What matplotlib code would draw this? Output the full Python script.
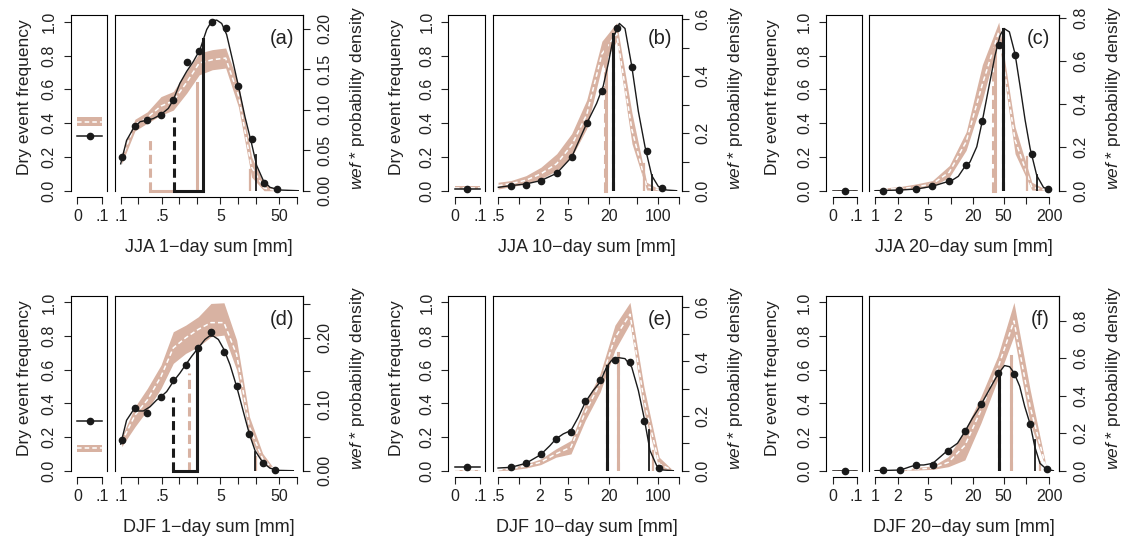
import numpy as np
import matplotlib.pyplot as plt

plt.rcParams['font.family'] = ['Liberation Sans', 'DejaVu Sans']
plt.rcParams['mathtext.fontset'] = 'custom'
plt.rcParams['mathtext.rm'] = 'Liberation Sans'
plt.rcParams['mathtext.it'] = 'Liberation Sans:italic'
plt.rcParams['text.color'] = '#222222'
plt.rcParams['xtick.color'] = '#222222'
plt.rcParams['ytick.color'] = '#222222'

TAN = '#d8b2a2'
INK = '#1a1a1a'

# values; y in "dry event frequency" units (left axis)
# (a) JJA 1-day
a_pts_x = [0.104, 0.175, 0.284, 0.486, 0.787, 1.33, 2.18, 3.64, 6.14, 10.1, 17.0, 27.6, 45.4]
a_pts_y = [0.199, 0.382, 0.417, 0.451, 0.537, 0.761, 0.825, 0.998, 0.962, 0.620, 0.308, 0.048, 0.010]
a_kde_x = [0.10, 0.126, 0.164, 0.213, 0.277, 0.360, 0.486, 0.647, 0.787, 1.02, 1.33, 1.73, 2.24,
           2.92, 3.55, 4.32, 5.25, 6.38, 8.28, 10.1, 13.1, 17.0, 20.7, 26.9, 34.9, 51.7, 106]
a_kde_y = [0.159, 0.298, 0.368, 0.408, 0.417, 0.427, 0.451, 0.487, 0.537, 0.636, 0.706, 0.765, 0.835,
           0.954, 1.004, 1.01, 0.99, 0.924, 0.755, 0.620, 0.437, 0.278, 0.149, 0.060, 0.020, 0.004, 0.0]
a_band_x = [0.104, 0.175, 0.284, 0.486, 0.787, 1.33, 2.18, 3.64, 6.14, 10.1, 17.0, 27.6, 45.4]
a_band_lo = [0.159, 0.354, 0.400, 0.447, 0.477, 0.577, 0.686, 0.716, 0.726, 0.497, 0.080, 0.0, 0.0]
a_band_mid = [0.189, 0.392, 0.433, 0.501, 0.531, 0.641, 0.756, 0.775, 0.785, 0.567, 0.139, 0.016, 0.0]
a_band_hi = [0.219, 0.423, 0.467, 0.557, 0.587, 0.706, 0.815, 0.835, 0.845, 0.636, 0.199, 0.040, 0.004]
a_dry = [0.322, 0.382, 0.408, 0.437]          # observed, model low / mid / high
a_obs_q, a_obs_qh = [0.82, 2.55], [0.437, 0.895]
a_mod_q, a_mod_qh = [0.316, 1.97], [0.308, 0.64]
a_tail = [20.0, 0.21, 15.9, 0.12]             # observed x, height, model x, height

# (b) JJA 10-day
b_pts_x = [0.767, 1.26, 2.07, 3.49, 5.73, 9.42, 15.6, 25.4, 42.2, 68.7, 113]
b_pts_y = [0.030, 0.036, 0.060, 0.103, 0.199, 0.402, 0.592, 0.964, 0.730, 0.233, 0.016]
b_kde_x = [0.505, 0.767, 1.26, 2.07, 3.49, 5.73, 9.42, 13.1, 16.3, 19.3, 22.7, 27.8, 33.5, 41.8,
           52.1, 65.0, 81.1, 101, 133, 185]
b_kde_y = [0.020, 0.030, 0.040, 0.060, 0.103, 0.199, 0.398, 0.517, 0.620, 0.755, 0.905, 0.990, 0.960,
           0.740, 0.470, 0.260, 0.090, 0.025, 0.004, 0.0]
b_band_x = [0.5, 0.767, 1.26, 2.07, 3.49, 5.73, 9.42, 15.6, 25.4, 42.2, 68.7, 113]
b_band_lo = [0.010, 0.024, 0.040, 0.070, 0.119, 0.199, 0.368, 0.736, 0.885, 0.278, 0.004, 0.0]
b_band_mid = [0.030, 0.042, 0.062, 0.100, 0.160, 0.270, 0.450, 0.810, 0.930, 0.360, 0.025, 0.0]
b_band_hi = [0.050, 0.060, 0.089, 0.139, 0.219, 0.338, 0.537, 0.885, 0.994, 0.460, 0.050, 0.0]
b_dry = [0.010, 0.008, 0.018, 0.028]
b_obs_q, b_obs_qh = [22.7, 22.7], [0.93, 0.93]
b_mod_q, b_mod_qh = [17.0, 17.6], [0.87, 0.87]
b_tail = [81.0, 0.09, 63.0, 0.16]

# (c) JJA 20-day
c_pts_x = [1.29, 2.1, 3.48, 5.73, 9.6, 16.0, 26.2, 43.1, 70.8, 118, 195]
c_pts_y = [0.0, 0.004, 0.010, 0.030, 0.060, 0.155, 0.414, 0.861, 0.801, 0.219, 0.010]
c_kde_x = [1.0, 2.14, 3.55, 5.73, 8.0, 10.3, 12.6, 15.5, 18.0, 22.1, 26.2, 31.5, 38.5, 44.9, 50.7,
           59.6, 70.8, 82.4, 96.0, 112, 137, 168, 206]
c_kde_y = [0.0, 0.004, 0.010, 0.026, 0.046, 0.060, 0.085, 0.145, 0.170, 0.260, 0.414, 0.600, 0.800,
           0.920, 0.960, 0.940, 0.810, 0.620, 0.420, 0.250, 0.090, 0.020, 0.0]
c_band_x = [1.29, 2.1, 3.48, 5.73, 9.6, 16.0, 26.2, 43.1, 70.8, 118, 195]
c_band_lo = [0.0, 0.004, 0.010, 0.024, 0.080, 0.239, 0.537, 0.895, 0.219, 0.004, 0.0]
c_band_mid = [0.008, 0.012, 0.022, 0.040, 0.110, 0.290, 0.630, 0.940, 0.300, 0.020, 0.0]
c_band_hi = [0.016, 0.024, 0.040, 0.060, 0.149, 0.348, 0.746, 0.998, 0.378, 0.050, 0.0]
c_dry = [0.0, 0.0, 0.002, 0.004]
c_obs_q, c_obs_qh = [49.7, 49.7], [0.958, 0.958]
c_mod_q, c_mod_qh = [36.0, 38.0], [0.85, 0.85]
c_tail = [137.0, 0.09, 101.0, 0.20]

# (d) DJF 1-day
d_pts_x = [0.104, 0.175, 0.284, 0.486, 0.787, 1.28, 2.10, 3.45, 5.74, 9.45, 15.6, 26.2, 42.6]
d_pts_y = [0.182, 0.370, 0.341, 0.440, 0.539, 0.628, 0.727, 0.822, 0.705, 0.503, 0.216, 0.048, 0.004]
d_kde_x = [0.10, 0.126, 0.164, 0.200, 0.243, 0.316, 0.410, 0.486, 0.607, 0.787, 1.02, 1.28, 1.62,
           2.10, 2.73, 3.24, 3.79, 4.61, 5.75, 7.28, 9.45, 12.3, 15.5, 19.4, 26.2, 34.9, 48.4, 87.3]
d_kde_y = [0.158, 0.30, 0.36, 0.355, 0.355, 0.38, 0.42, 0.44, 0.47, 0.53, 0.58, 0.63, 0.68,
           0.73, 0.78, 0.80, 0.80, 0.78, 0.72, 0.63, 0.50, 0.35, 0.22, 0.12, 0.05, 0.015, 0.002, 0.0]
d_band_x = [0.104, 0.175, 0.284, 0.486, 0.787, 1.28, 2.10, 3.45, 5.74, 9.45, 15.6, 26.2, 42.6]
d_band_lo = [0.143, 0.261, 0.360, 0.489, 0.638, 0.697, 0.737, 0.796, 0.806, 0.598, 0.202, 0.044, 0.0]
d_band_mid = [0.17, 0.33, 0.42, 0.56, 0.73, 0.79, 0.84, 0.88, 0.88, 0.69, 0.26, 0.07, 0.0]
d_band_hi = [0.202, 0.380, 0.489, 0.628, 0.826, 0.865, 0.915, 0.994, 0.998, 0.776, 0.321, 0.103, 0.004]
d_dry = [0.295, 0.113, 0.133, 0.152]
d_obs_q, d_obs_qh = [0.787, 2.02], [0.44, 0.733]
d_mod_q, d_mod_qh = [1.46, 2.02], [0.578, 0.70]
d_tail = [19.4, 0.11, 20.2, 0.08]

# (e) DJF 10-day
e_pts_x = [0.767, 1.26, 2.05, 3.40, 5.60, 9.02, 14.7, 24.0, 39.5, 62.8, 104]
e_pts_y = [0.020, 0.046, 0.099, 0.189, 0.229, 0.412, 0.537, 0.660, 0.646, 0.298, 0.016]
e_kde_x = [0.5, 0.767, 1.26, 2.05, 2.79, 3.40, 4.35, 5.60, 7.14, 9.02, 11.7, 14.7, 18.2, 21.5, 26.9,
           33.5, 41.8, 52.1, 62.8, 76.7, 95.7, 119, 166]
e_kde_y = [0.016, 0.020, 0.044, 0.095, 0.149, 0.189, 0.219, 0.239, 0.318, 0.408, 0.477, 0.527, 0.616,
           0.656, 0.672, 0.666, 0.616, 0.477, 0.318, 0.119, 0.030, 0.004, 0.0]
e_band_x = [0.5, 0.767, 1.26, 2.05, 3.40, 5.60, 9.02, 14.7, 24.0, 39.5, 62.8, 104, 166]
e_band_lo = [0.0, 0.004, 0.016, 0.036, 0.080, 0.100, 0.300, 0.467, 0.716, 0.875, 0.348, 0.010, 0.0]
e_band_mid = [0.005, 0.012, 0.028, 0.050, 0.100, 0.140, 0.350, 0.520, 0.790, 0.930, 0.420, 0.040, 0.0]
e_band_hi = [0.010, 0.020, 0.040, 0.070, 0.130, 0.180, 0.400, 0.577, 0.865, 1.0, 0.497, 0.080, 0.0]
e_dry = [0.020, 0.0, 0.002, 0.005]
e_obs_q, e_obs_qh = [18.7, 18.7], [0.62, 0.62]
e_mod_q, e_mod_qh = [26.9, 26.9], [0.70, 0.70]
e_tail = [75.0, 0.24, 84.0, 0.12]

# (f) DJF 20-day
f_pts_x = [1.29, 2.11, 3.52, 5.81, 9.31, 15.4, 25.1, 41.9, 68.5, 112, 185]
f_pts_y = [0.004, 0.002, 0.034, 0.032, 0.118, 0.233, 0.396, 0.578, 0.576, 0.277, 0.008]
f_kde_x = [1.0, 2.17, 2.93, 3.52, 4.41, 5.81, 7.36, 9.31, 12.3, 15.4, 19.4, 25.1, 32.4, 41.9, 51.4,
           60.0, 68.5, 81.5, 95.0, 112, 129, 151, 185, 227]
f_kde_y = [0.0, 0.004, 0.024, 0.034, 0.034, 0.044, 0.084, 0.124, 0.163, 0.233, 0.313, 0.392, 0.482,
           0.572, 0.625, 0.618, 0.582, 0.502, 0.382, 0.277, 0.143, 0.044, 0.008, 0.0]
f_band_x = [2.11, 3.52, 5.81, 9.31, 15.4, 25.1, 41.9, 68.5, 112, 185]
f_band_lo = [0.0, 0.004, 0.008, 0.024, 0.064, 0.283, 0.542, 0.801, 0.283, 0.0]
f_band_mid = [0.0, 0.010, 0.016, 0.050, 0.150, 0.360, 0.610, 0.890, 0.380, 0.005]
f_band_hi = [0.0, 0.020, 0.028, 0.084, 0.240, 0.442, 0.681, 1.0, 0.482, 0.014]
f_dry = [0.0, 0.0, 0.0, 0.002]
f_obs_q, f_obs_qh = [42.8, 42.8], [0.58, 0.58]
f_mod_q, f_mod_qh = [61.8, 61.8], [0.68, 0.68]
f_tail = [129.0, 0.18, 150.0, 0.05]

# right axis: wef * probability density that corresponds to frequency 1.0
dens_scale = {'a': 0.2087, 'b': 0.590, 'c': 0.781, 'd': 0.253, 'e': 0.616, 'f': 0.898}
dens_ticks = {'a': [0, 0.05, 0.10, 0.15, 0.20], 'b': [0, 0.1, 0.2, 0.3, 0.4, 0.5, 0.6],
              'c': [0, 0.2, 0.4, 0.6, 0.8], 'd': [0, 0.05, 0.10, 0.15, 0.20, 0.25],
              'e': [0, 0.1, 0.2, 0.3, 0.4, 0.5, 0.6], 'f': [0, 0.2, 0.4, 0.6, 0.8]}
dens_labels = {'a': ['0.00', '0.05', '0.10', '0.15', '0.20'],
               'b': ['0.0', '', '0.2', '', '0.4', '', '0.6'],
               'c': ['0.0', '0.2', '0.4', '0.6', '0.8'],
               'd': ['0.00', '', '0.10', '', '0.20', ''],
               'e': ['0.0', '', '0.2', '', '0.4', '', '0.6'],
               'f': ['0.0', '0.2', '0.4', '0.6', '0.8']}

seasons = ['JJA', 'DJF']
durations = ['1', '10', '20']
col_xlim = [(0.080, 129), (0.419, 219), (0.841, 272)]
col_ticks = [[0.1, 0.2, 0.5, 1, 2, 5, 10, 20, 50, 100],
             [0.5, 1, 2, 5, 10, 20, 50, 100, 200],
             [1, 2, 5, 10, 20, 50, 100, 200]]
col_ticklabels = [['.1', '', '.5', '', '', '5', '', '', '50', ''],
                  ['.5', '', '2', '5', '', '20', '', '100', ''],
                  ['1', '2', '5', '', '20', '50', '', '200']]

panels = {
    'a': (a_pts_x, a_pts_y, a_kde_x, a_kde_y, a_band_x, a_band_lo, a_band_mid, a_band_hi, a_dry,
          a_obs_q, a_obs_qh, a_mod_q, a_mod_qh, a_tail),
    'b': (b_pts_x, b_pts_y, b_kde_x, b_kde_y, b_band_x, b_band_lo, b_band_mid, b_band_hi, b_dry,
          b_obs_q, b_obs_qh, b_mod_q, b_mod_qh, b_tail),
    'c': (c_pts_x, c_pts_y, c_kde_x, c_kde_y, c_band_x, c_band_lo, c_band_mid, c_band_hi, c_dry,
          c_obs_q, c_obs_qh, c_mod_q, c_mod_qh, c_tail),
    'd': (d_pts_x, d_pts_y, d_kde_x, d_kde_y, d_band_x, d_band_lo, d_band_mid, d_band_hi, d_dry,
          d_obs_q, d_obs_qh, d_mod_q, d_mod_qh, d_tail),
    'e': (e_pts_x, e_pts_y, e_kde_x, e_kde_y, e_band_x, e_band_lo, e_band_mid, e_band_hi, e_dry,
          e_obs_q, e_obs_qh, e_mod_q, e_mod_qh, e_tail),
    'f': (f_pts_x, f_pts_y, f_kde_x, f_kde_y, f_band_x, f_band_lo, f_band_mid, f_band_hi, f_dry,
          f_obs_q, f_obs_qh, f_mod_q, f_mod_qh, f_tail),
}

# layout in pixels
W, H = 1123, 541
rows = [(15.0, 190.7), (295.7, 470.7)]
cols = [(70.7, 107.3, 115.0, 303.3), (448.3, 485.0, 492.7, 681.7), (826.0, 861.7, 869.3, 1059.3)]
ylab_x = [25, 397, 773]
YTOP = 1.04
FS = 11.5
LW = 0.8
MS = 4.5


def box(x0, x1, y0, y1):
    return [x0 / W, 1 - y1 / H, (x1 - x0) / W, (y1 - y0) / H]


def style_xaxis(ax, ticks, labels):
    ax.spines['bottom'].set_position(('outward', 4.3))
    ax.spines['bottom'].set_bounds(ticks[0], ticks[-1])
    ax.spines['bottom'].set_linewidth(LW)
    ax.set_xticks(ticks)
    ax.set_xticklabels(labels)
    ax.xaxis.set_minor_locator(plt.NullLocator())
    ax.tick_params(axis='x', direction='out', length=5, width=LW, pad=4, labelsize=FS)


fig = plt.figure(figsize=(W / 100, H / 100), dpi=100)

for i, letter in enumerate('abcdef'):
    r, c = divmod(i, 3)
    (pts_x, pts_y, kde_x, kde_y, band_x, band_lo, band_mid, band_hi, dry,
     obs_q, obs_qh, mod_q, mod_qh, tail) = panels[letter]
    y0, y1 = rows[r]
    sx0, sx1, mx0, mx1 = cols[c]

    # small panel: dry event frequency
    ax_s = fig.add_axes(box(sx0, sx1, y0, y1))
    ax_s.set_xlim(-0.027, 0.121)
    ax_s.set_ylim(0, YTOP)
    ax_s.fill_between([0, 0.1], dry[1], dry[3], color=TAN, lw=0, zorder=1)
    ax_s.plot([0, 0.1], [dry[2], dry[2]], color='white', lw=1.1, dashes=(3, 2), zorder=2)
    ax_s.plot([0, 0.1], [dry[0], dry[0]], color=INK, lw=1.1, zorder=3)
    ax_s.plot([0.05], [dry[0]], 'o', color=INK, ms=MS, zorder=4, clip_on=False)
    for s in ['top', 'right', 'left']:
        ax_s.spines[s].set_linewidth(LW)
    style_xaxis(ax_s, [0, 0.1], ['0', '.1'])
    ax_s.set_yticks([0, 0.2, 0.4, 0.6, 0.8, 1.0])
    ax_s.set_yticklabels(['0.0', '0.2', '0.4', '0.6', '0.8', '1.0'])
    ax_s.tick_params(axis='y', direction='out', length=5, width=LW, pad=5, labelsize=FS,
                     labelrotation=90)
    for t in ax_s.get_yticklabels():
        t.set_va('center')

    # main panel
    ax = fig.add_axes(box(mx0, mx1, y0, y1))
    ax.set_xscale('log')
    ax.set_xlim(*col_xlim[c])
    ax.set_ylim(0, YTOP)
    ax.fill_between(band_x, band_lo, band_hi, color=TAN, lw=0, zorder=1)
    ax.plot(band_x, band_mid, color='white', lw=1.1, dashes=(3, 2), zorder=2)

    # model quantile markers (tan), observed (black)
    ax.plot([mod_q[0], mod_q[1]], [0, 0], color=TAN, lw=2.2, zorder=3, clip_on=False)
    ax.plot([mod_q[0], mod_q[0]], [0, mod_qh[0]], color=TAN, lw=2.2, dashes=(3, 1.5), zorder=3)
    ax.plot([mod_q[1], mod_q[1]], [0, mod_qh[1]], color=TAN, lw=2.2, zorder=3)
    ax.plot([tail[2], tail[2]], [0, tail[3]], color=TAN, lw=1.6, zorder=3)

    ax.plot(kde_x, kde_y, color=INK, lw=1.0, zorder=4)
    ax.plot(pts_x, pts_y, 'o', color=INK, ms=MS, zorder=5, clip_on=False)

    ax.plot([obs_q[0], obs_q[1]], [0, 0], color=INK, lw=2.2, zorder=5, clip_on=False)
    ax.plot([obs_q[0], obs_q[0]], [0, obs_qh[0]], color=INK, lw=2.2, dashes=(3, 1.5), zorder=5)
    ax.plot([obs_q[1], obs_q[1]], [0, obs_qh[1]], color=INK, lw=2.2, zorder=5)
    ax.plot([tail[0], tail[0]], [0, tail[1]], color=INK, lw=1.3, zorder=5)

    for s in ['top', 'right', 'left']:
        ax.spines[s].set_linewidth(LW)
    style_xaxis(ax, col_ticks[c], col_ticklabels[c])
    ax.set_yticks([])
    ax.text(0.95, 0.865, '(%s)' % letter, transform=ax.transAxes, ha='right', va='center',
            fontsize=14.5)

    # right axis: wef * probability density
    ax_r = ax.twinx()
    ax_r.set_ylim(0, YTOP * dens_scale[letter])
    for s in ['top', 'left', 'bottom']:
        ax_r.spines[s].set_visible(False)
    ax_r.spines['right'].set_linewidth(LW)
    ax_r.set_yticks(dens_ticks[letter])
    ax_r.set_yticklabels(dens_labels[letter])
    ax_r.tick_params(axis='y', direction='out', length=5, width=LW, pad=5, labelsize=FS,
                     labelrotation=90)
    for t in ax_r.get_yticklabels():
        t.set_va('center')

    # axis titles
    yc = 1 - (y0 + (y1 - y0) * 0.47) / H
    fig.text(ylab_x[c] / W, yc, 'Dry event frequency', rotation=90, ha='center', va='center',
             fontsize=12.5)
    fig.text((mx1 + 54) / W, yc, r'$\it{wef}$ * probability density', rotation=90,
             ha='center', va='center', fontsize=12.5)
    fig.text((mx0 + mx1) / 2 / W, 1 - (y1 + 57.3) / H,
             '%s %s\u2212day sum [mm]' % (seasons[r], durations[c]),
             ha='center', va='center', fontsize=13)

fig.savefig('out.png', dpi=100)
